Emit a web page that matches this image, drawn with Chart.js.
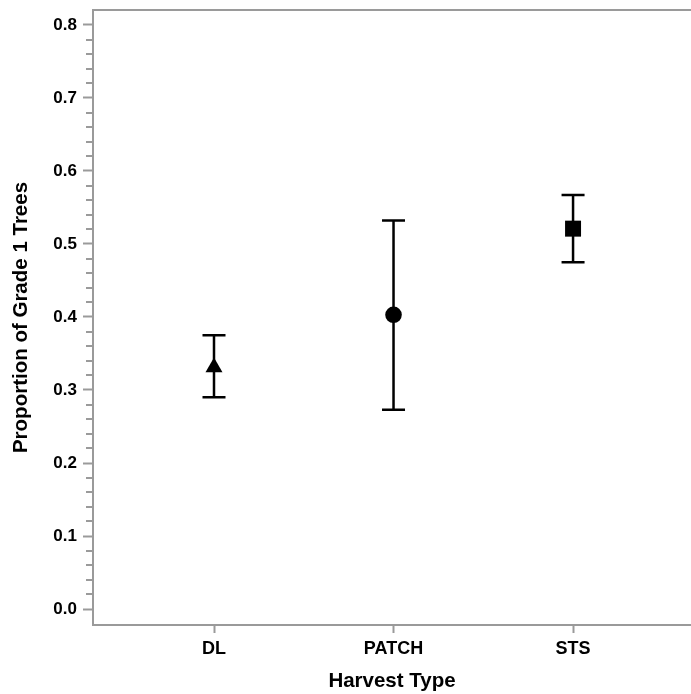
<!DOCTYPE html>
<html>
<head>
<meta charset="utf-8">
<script src="https://cdn.jsdelivr.net/npm/chart.js@4"></script>
<style>
  body { margin: 0; background: #fff; }
  #wrap { width: 691px; height: 694px; }
</style>
</head>
<body>
<div id="wrap"><canvas id="chart" width="691" height="694"></canvas></div>
<script>
// data
const categories = ["DL", "PATCH", "STS"];
const means  = [0.331, 0.403, 0.521];
const lowers = [0.290, 0.273, 0.475];
const uppers = [0.375, 0.532, 0.567];
const yTicks = [0, 0.1, 0.2, 0.3, 0.4, 0.5, 0.6, 0.7, 0.8];

const axisGray = "#9a9a9a";
const font = "'Liberation Sans', Arial, sans-serif";

// no extra padding for edge labels, the frame runs to the canvas edge
function noPad(s) {
  s.paddingTop = 0; s.paddingBottom = 0; s.paddingLeft = 0; s.paddingRight = 0;
}

// error bars + minor ticks + top frame line
const extras = {
  id: "extras",
  beforeDatasetsDraw(chart) {
    const { ctx, scales: { x, y } } = chart;
    ctx.save();
    ctx.strokeStyle = "#000";
    ctx.lineWidth = 2.5;
    means.forEach((m, i) => {
      const px = x.getPixelForValue(i);
      const top = y.getPixelForValue(uppers[i]);
      const bot = y.getPixelForValue(lowers[i]);
      ctx.beginPath();
      ctx.moveTo(px, top); ctx.lineTo(px, bot);
      ctx.moveTo(px - 11.5, top); ctx.lineTo(px + 11.5, top);
      ctx.moveTo(px - 11.5, bot); ctx.lineTo(px + 11.5, bot);
      ctx.stroke();
    });
    ctx.restore();
  },
  afterDraw(chart) {
    const { ctx, chartArea, scales: { y } } = chart;
    ctx.save();
    ctx.strokeStyle = axisGray;
    ctx.lineWidth = 2;
    // minor ticks every 0.02
    for (let k = 0; k <= 40; k++) {
      if (k % 5 === 0) continue;
      const py = Math.round(y.getPixelForValue(k * 0.02));
      ctx.beginPath();
      ctx.moveTo(chartArea.left - 7, py);
      ctx.lineTo(chartArea.left, py);
      ctx.stroke();
    }
    ctx.beginPath();
    ctx.moveTo(chartArea.left - 1, chartArea.top);
    ctx.lineTo(chartArea.right, chartArea.top);
    ctx.stroke();
    ctx.restore();
  }
};

new Chart(document.getElementById("chart"), {
  type: "scatter",
  data: {
    datasets: [{
      data: means.map((m, i) => ({ x: i, y: m })),
      pointStyle: ["triangle", "circle", "rect"],
      pointRadius: [9.8, 8.3, 11.3],
      backgroundColor: "#000",
      borderColor: "#000",
      borderWidth: 0,
      clip: false
    }]
  },
  plugins: [extras],
  options: {
    responsive: false,
    animation: false,
    layout: { autoPadding: false, padding: { top: 10, right: 0, bottom: 0, left: 0 } },
    plugins: { legend: { display: false }, tooltip: { enabled: false } },
    scales: {
      x: {
        type: "linear",
        min: -0.674,
        max: 2.657,
        afterBuildTicks: s => { s.ticks = categories.map((c, i) => ({ value: i })); },
        afterFit: s => { s.height = 69; noPad(s); },
        ticks: {
          callback: v => categories[v],
          color: "#000",
          padding: 5,
          maxRotation: 0,
          font: { family: font, size: 18, weight: "bold" }
        },
        grid: { drawOnChartArea: false, tickLength: 8, tickColor: axisGray, tickWidth: 2 },
        border: { color: axisGray, width: 2 },
        title: {
          display: true,
          text: "Harvest Type",
          color: "#000",
          padding: { top: 0, bottom: 0 },
          font: { family: font, size: 20.5, weight: "bold" }
        }
      },
      y: {
        min: -0.0219,
        max: 0.8205,
        afterBuildTicks: s => { s.ticks = yTicks.map(v => ({ value: v })); },
        afterFit: s => { s.width = 93; noPad(s); },
        ticks: {
          callback: v => v.toFixed(1),
          color: "#000",
          padding: 6,
          font: { family: font, size: 17, weight: "bold" }
        },
        grid: { drawOnChartArea: false, tickLength: 10, tickColor: axisGray, tickWidth: 2 },
        border: { color: axisGray, width: 2 },
        title: {
          display: true,
          text: "Proportion of Grade 1 Trees",
          color: "#000",
          padding: { top: 9, bottom: 0 },
          font: { family: font, size: 20.5, weight: "bold" }
        }
      }
    }
  }
});
</script>
</body>
</html>
